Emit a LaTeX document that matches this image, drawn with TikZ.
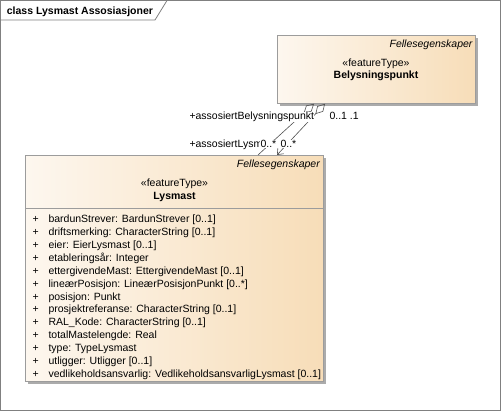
\documentclass[tikz,border=0pt]{standalone}
\usepackage{fontspec}
\setmainfont{Liberation Sans}
\usetikzlibrary{arrows.meta,calc}
\definecolor{boxL}{HTML}{FDF7EF}
\definecolor{boxR}{HTML}{F7DDB8}
\definecolor{edgec}{HTML}{9C9C9C}
\definecolor{framec}{HTML}{808080}
\definecolor{shadowc}{HTML}{ABABAB}
\definecolor{linec}{HTML}{505050}
\begin{document}
\begin{tikzpicture}[x=1pt,y=-1pt,
  every node/.style={font=\fontsize{10.5}{12.6}\selectfont, inner sep=0pt},
  classbox/.style={draw=edgec, line width=0.8pt, left color=boxL, right color=boxR, anchor=north west, inner sep=0pt},
  lbl/.style={anchor=base west, fill=white, inner sep=0.3pt},
  attr/.style={anchor=base west},
  conn/.style={draw=linec, line width=0.6pt}]
\useasboundingbox (0,0) rectangle (501,411);
\draw[draw=framec, line width=0.8pt] (0.5,0.5) rectangle (500.5,410.5);
\draw[draw=framec, line width=0.8pt] (0.5,20) -- (155,20) -- (167,0.5);
\node[anchor=base west, font=\fontsize{10.5}{12.6}\selectfont\bfseries] (title) at (6.7,14.3) {class Lysmast Assosiasjoner};

% shadows
\fill[shadowc] (280,38) rectangle (478,106);
\fill[shadowc] (28,158) rectangle (326,384);

% Belysningspunkt
\node[classbox, minimum width=198pt, minimum height=68pt] (B) at (277,35) {};
\node[anchor=base east, font=\fontsize{10.5}{12.6}\selectfont\itshape] (Bpkg) at (472.7,47.3) {Fellesegenskaper};
\node[anchor=base] (Bst) at (376,66.7) {«featureType»};
\node[anchor=base, font=\fontsize{10.5}{12.6}\selectfont\bfseries] (Bname) at (376,79) {Belysningspunkt};

% Lysmast
\node[classbox, minimum width=298pt, minimum height=226pt] (L) at (25,155) {};
\node[anchor=base east, font=\fontsize{10.5}{12.6}\selectfont\itshape] (Lpkg) at (320,167.3) {Fellesegenskaper};
\node[anchor=base] (Lst) at (174.5,186.7) {«featureType»};
\node[anchor=base, font=\fontsize{10.5}{12.6}\selectfont\bfseries] (Lname) at (174.5,199.3) {Lysmast};
\draw[draw=edgec, line width=0.8pt] (25,208.3) -- (323,208.3);

\foreach \t [count=\i from 0] in {
  {bardunStrever: BardunStrever [0..1]},
  {driftsmerking: CharacterString [0..1]},
  {eier: EierLysmast [0..1]},
  {etableringsår: Integer},
  {ettergivendeMast: EttergivendeMast [0..1]},
  {lineærPosisjon: LineærPosisjonPunkt [0..*]},
  {posisjon: Punkt},
  {prosjektreferanse: CharacterString [0..1]},
  {RAL\_Kode: CharacterString [0..1]},
  {totalMastelengde: Real},
  {type: TypeLysmast},
  {utligger: Utligger [0..1]},
  {vedlikeholdsansvarlig: VedlikeholdsansvarligLysmast [0..1]}} {
  \node[attr] (p\i) at (32.5,{222.7+12.9*\i}) {+};
  \node[attr] (a\i) at (48.3,{222.7+12.9*\i}) {\t};
}

% connectors
\draw[conn, {Diamond[open,length=14pt,width=8pt]}-] ($(B.south west)+(37,0)$) -- ($(L.north west)+(233,0)$);
\draw[conn, {Diamond[open,length=14pt,width=8pt]}-{Straight Barb[length=5pt,width=8pt]}] ($(B.south west)+(48,0)$) -- ($(L.north west)+(252,0)$);

\node[lbl] (r1) at (189,120) {+assosiertBelysningspunkt};
\node[lbl] (m1) at (329,120) {0..1 .1};
\node[lbl] (r2) at (189,147.7) {+assosiertLysm};
\node[lbl] (m2) at (260,147.7) {0..*};
\node[lbl] (m3) at (280,147.7) {0..*};
\end{tikzpicture}
\end{document}
